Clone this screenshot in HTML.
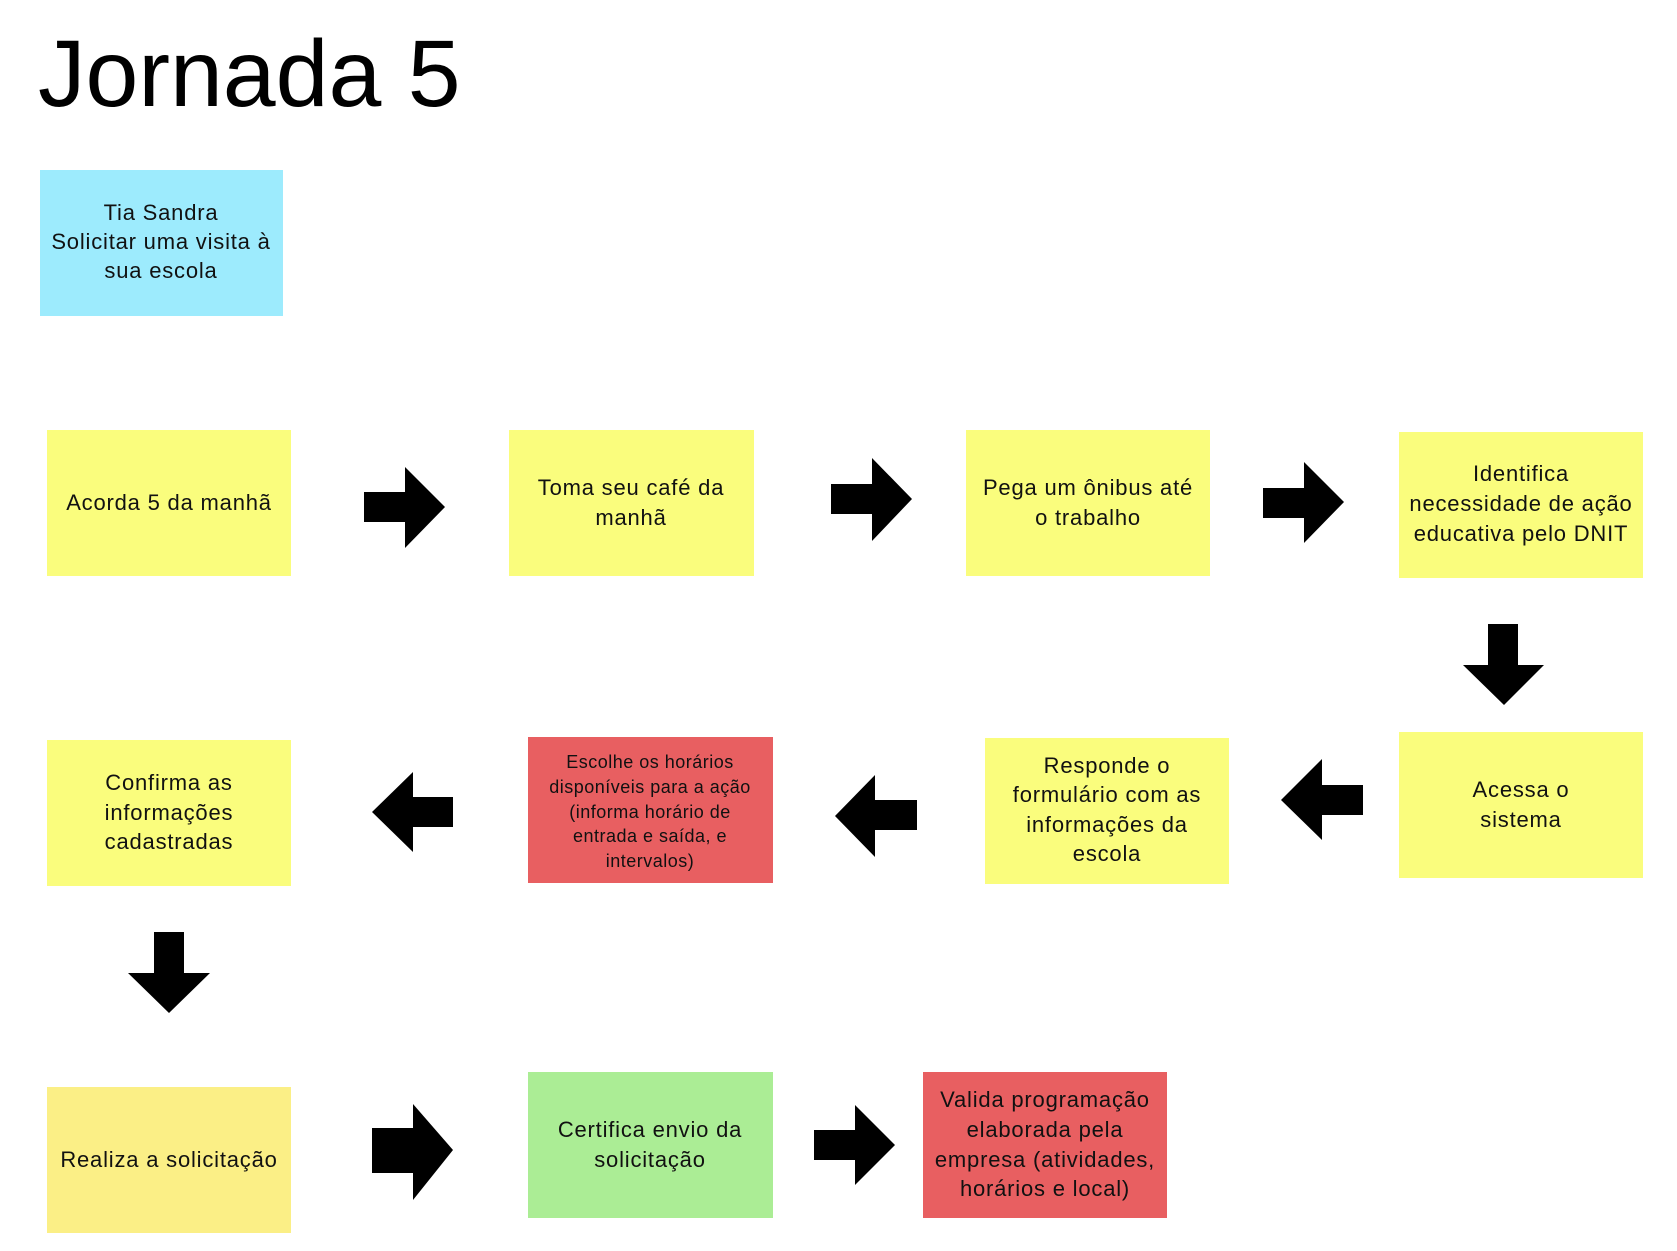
<!DOCTYPE html>
<html><head><meta charset="utf-8"><style>
html,body{margin:0;padding:0;background:#fff;width:1677px;height:1251px;overflow:hidden}
svg text{font-family:"Liberation Sans",sans-serif;fill:#111}
</style></head><body>
<svg width="1677" height="1251" xmlns="http://www.w3.org/2000/svg">
<text x="38" y="106" font-size="95" style="fill:#000">Jornada 5</text>

<rect x="40" y="170" width="243" height="146" fill="#9debfd"/>
<text font-size="22" letter-spacing="0.8" text-anchor="middle"><tspan x="161" y="220">Tia Sandra</tspan><tspan x="161" y="249">Solicitar uma visita à</tspan><tspan x="161" y="278">sua escola</tspan></text>

<g fill="#fafd7d">
<rect x="47" y="430" width="244" height="146"/>
<rect x="509" y="430" width="245" height="146"/>
<rect x="966" y="430" width="244" height="146"/>
<rect x="1399" y="432" width="244" height="146"/>
<rect x="1399" y="732" width="244" height="146"/>
<rect x="985" y="738" width="244" height="146"/>
<rect x="47" y="740" width="244" height="146"/>
</g>
<rect x="528" y="737" width="245" height="146" fill="#e85f61"/>
<rect x="47" y="1087" width="244" height="146" fill="#fbef86"/>
<rect x="528" y="1072" width="245" height="146" fill="#abed95"/>
<rect x="923" y="1072" width="244" height="146" fill="#e85f61"/>

<g font-size="22" letter-spacing="0.8" text-anchor="middle">
<text x="169" y="510">Acorda 5 da manhã</text>
<text><tspan x="631" y="495">Toma seu café da</tspan><tspan x="631" y="525">manhã</tspan></text>
<text><tspan x="1088" y="495">Pega um ônibus até</tspan><tspan x="1088" y="525">o trabalho</tspan></text>
<text><tspan x="1521" y="481">Identifica</tspan><tspan x="1521" y="511">necessidade de ação</tspan><tspan x="1521" y="541">educativa pelo DNIT</tspan></text>
<text><tspan x="1521" y="797">Acessa o</tspan><tspan x="1521" y="827">sistema</tspan></text>
<text><tspan x="1107" y="773">Responde o</tspan><tspan x="1107" y="802">formulário com as</tspan><tspan x="1107" y="832">informações da</tspan><tspan x="1107" y="861">escola</tspan></text>
<text><tspan x="169" y="790">Confirma as</tspan><tspan x="169" y="820">informações</tspan><tspan x="169" y="849">cadastradas</tspan></text>
<text x="169" y="1167">Realiza a solicitação</text>
<text><tspan x="650" y="1137">Certifica envio da</tspan><tspan x="650" y="1167">solicitação</tspan></text>
<text><tspan x="1045" y="1107">Valida programação</tspan><tspan x="1045" y="1137">elaborada pela</tspan><tspan x="1045" y="1167">empresa (atividades,</tspan><tspan x="1045" y="1196">horários e local)</tspan></text>
</g>
<text font-size="18" letter-spacing="0.5" text-anchor="middle"><tspan x="650" y="768">Escolhe os horários</tspan><tspan x="650" y="793">disponíveis para a ação</tspan><tspan x="650" y="818">(informa horário de</tspan><tspan x="650" y="842">entrada e saída, e</tspan><tspan x="650" y="867">intervalos)</tspan></text>

<g fill="#000">
<polygon points="364,492 405,492 405,467 445,507 405,548 405,522 364,522"/>
<polygon points="831,484 872,484 872,458 912,499 872,541 872,514 831,514"/>
<polygon points="1263,488 1304,488 1304,462 1344,502 1304,543 1304,518 1263,518"/>
<polygon points="372,1128 413,1128 413,1104 453,1150 413,1200 413,1173 372,1173"/>
<polygon points="814,1130 855,1130 855,1105 895,1145 855,1185 855,1160 814,1160"/>
<polygon points="1363,785 1322,785 1322,759 1281,800 1322,840 1322,815 1363,815"/>
<polygon points="917,800 875,800 875,775 835,816 875,857 875,830 917,830"/>
<polygon points="453,797 413,797 413,772 372,812 413,852 413,827 453,827"/>
<polygon points="1488,624 1518,624 1518,665 1544,665 1504,705 1463,665 1488,665"/>
<polygon points="154,932 184,932 184,973 210,973 169,1013 128,973 154,973"/>
</g>
</svg>
</body></html>
